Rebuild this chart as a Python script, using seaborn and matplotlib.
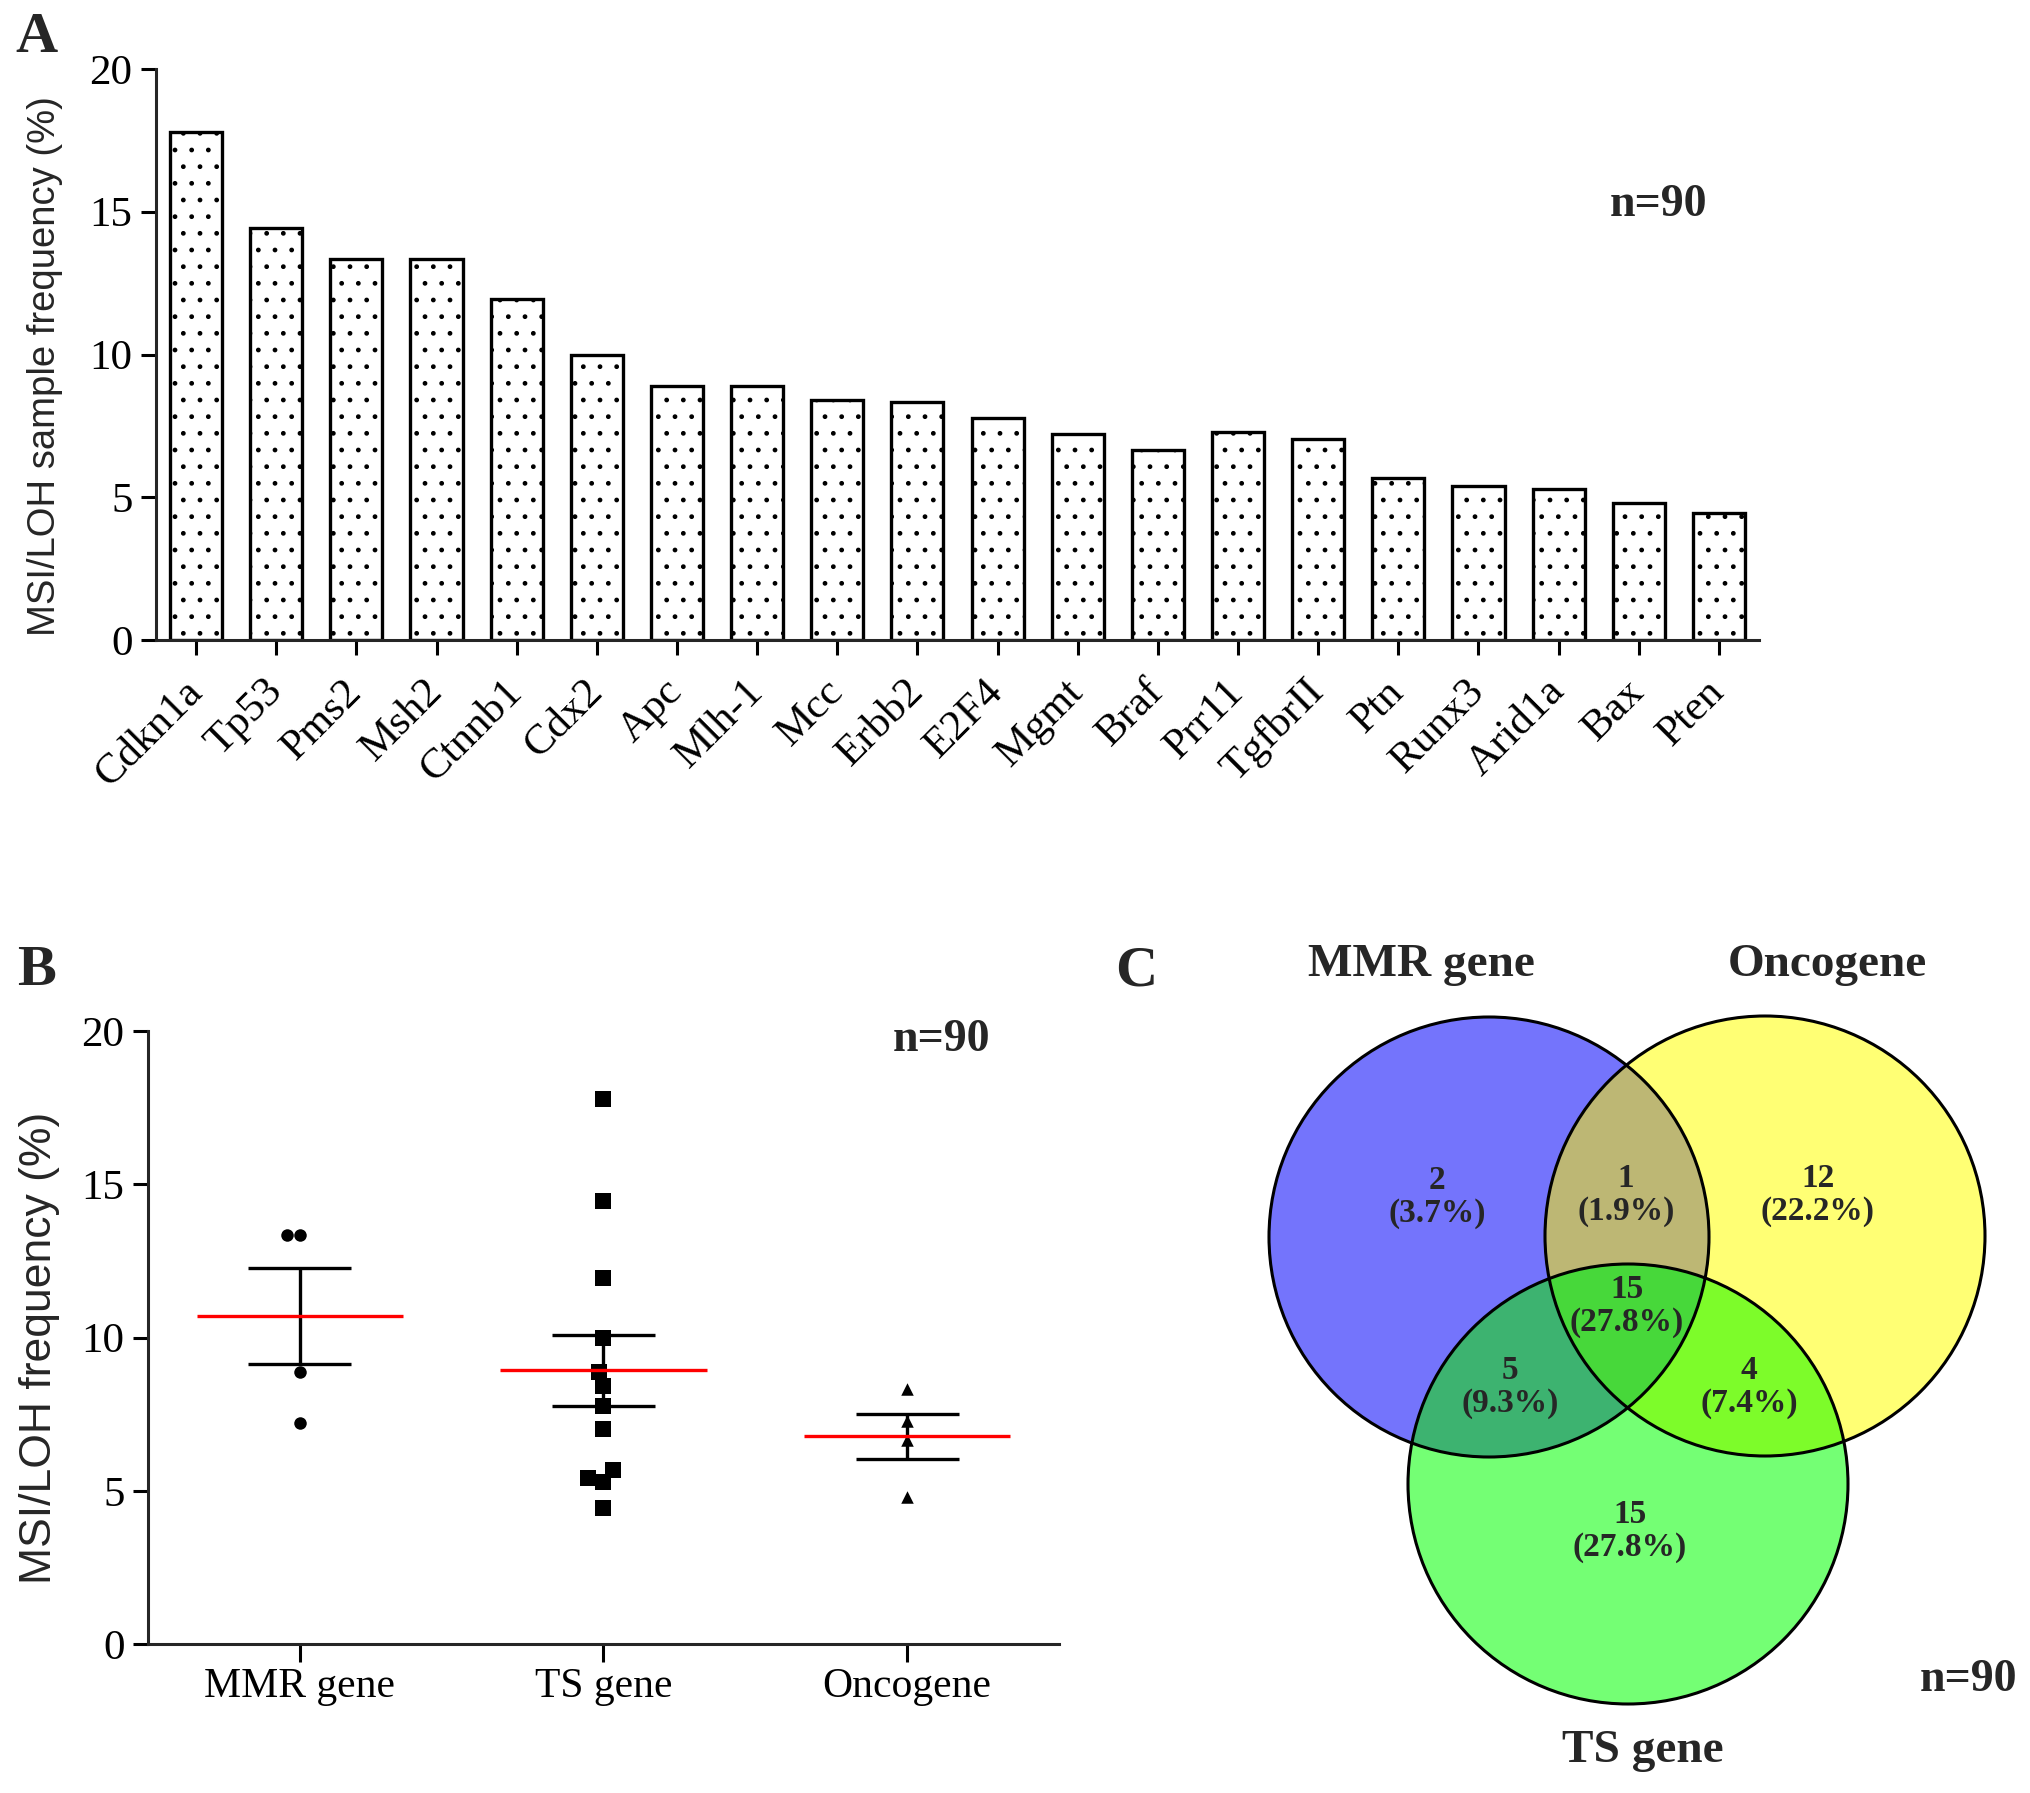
import numpy as np
import pandas as pd
import seaborn as sns
import matplotlib.pyplot as plt
from matplotlib.patches import Circle, Polygon

# Data
genes = ['Cdkn1a', 'Tp53', 'Pms2', 'Msh2', 'Ctnnb1', 'Cdx2', 'Apc', 'Mlh-1', 'Mcc', 'Erbb2',
         'E2F4', 'Mgmt', 'Braf', 'Prr11', 'TgfbrII', 'Ptn', 'Runx3', 'Arid1a', 'Bax', 'Pten']
freq = [17.78, 14.44, 13.33, 13.33, 11.95, 10.0, 8.89, 8.89, 8.41, 8.33,
        7.78, 7.22, 6.67, 7.28, 7.03, 5.67, 5.40, 5.28, 4.81, 4.45]
gene_class = ['TS gene', 'TS gene', 'MMR gene', 'MMR gene', 'TS gene', 'TS gene', 'TS gene', 'MMR gene',
              'TS gene', 'Oncogene', 'TS gene', 'MMR gene', 'Oncogene', 'Oncogene', 'TS gene', 'TS gene',
              'TS gene', 'TS gene', 'Oncogene', 'TS gene']
groups = ['MMR gene', 'TS gene', 'Oncogene']
group_markers = ['o', 's', '^']

venn_sets = ['MMR gene', 'Oncogene', 'TS gene']
venn_regions = ['MMR', 'MMR&Onco', 'Onco', 'All', 'MMR&TS', 'Onco&TS', 'TS']
venn_counts = [2, 1, 12, 15, 5, 4, 15]

df = pd.DataFrame({'gene': genes, 'freq': freq, 'group': gene_class})

sns.set_theme(style='ticks')
plt.rcParams['font.family'] = ['Liberation Serif', 'DejaVu Serif']
plt.rcParams['axes.linewidth'] = 2.2
plt.rcParams['hatch.color'] = 'black'
plt.rcParams['hatch.linewidth'] = 1.0

W, H = 2031, 1793
fig = plt.figure(figsize=(W / 100, H / 100), dpi=100)


def px_axes(x0, y0, x1, y1):
    # pixel box (top-left origin) -> figure fraction
    return [x0 / W, 1 - y1 / H, (x1 - x0) / W, (y1 - y0) / H]


def style_axes(ax):
    sns.despine(ax=ax)
    ax.tick_params(axis='both', direction='out', length=11, width=2.2, labelsize=31,
                   colors='black', pad=6)
    ax.set_ylim(0, 20)
    ax.set_yticks([0, 5, 10, 15, 20])


# ---- Panel A ----
axA = fig.add_axes(px_axes(156, 69, 1759, 640))
sns.barplot(x='gene', y='freq', data=df, order=genes, color='white', edgecolor='black',
            linewidth=2.4, width=0.65, saturation=1, ax=axA)
for p in axA.patches:
    p.set_hatch('.')
    p.set_edgecolor('black')
style_axes(axA)
axA.set_xlim(-0.5, len(genes) - 0.5)
axA.set_xlabel('')
axA.set_ylabel('MSI/LOH sample frequency (%)', fontsize=27.5, family='Liberation Sans')
axA.yaxis.set_label_coords(-0.058, 0.48)
plt.setp(axA.get_xticklabels(), rotation=45, ha='right', va='center', rotation_mode='anchor')
axA.tick_params(axis='x', pad=22)
axA.text(0.937, 0.762, 'n=90', transform=axA.transAxes, ha='center', va='center',
         fontsize=33, fontweight='bold')

# ---- Panel B ----
axB = fig.add_axes(px_axes(148, 1031, 1059, 1644))
marker_size = {'o': 9, 's': 11, '^': 9}
for g, m in zip(groups, group_markers):
    sub = df[df['group'] == g]
    sns.swarmplot(x=sub['group'], y=sub['freq'], order=groups, marker=m, color='black',
                  size=marker_size[m], linewidth=0, ax=axB)
stats = df.groupby('group')['freq'].agg(['mean', 'sem']).reindex(groups)
for i, g in enumerate(groups):
    mu, se = stats.loc[g, 'mean'], stats.loc[g, 'sem']
    axB.vlines(i, mu - se, mu + se, color='black', lw=2.4, zorder=4)
    axB.hlines([mu - se, mu + se], i - 0.17, i + 0.17, color='black', lw=2.4, zorder=4)
    axB.hlines(mu, i - 0.34, i + 0.34, color='red', lw=2.4, zorder=5)
style_axes(axB)
axB.set_xlim(-0.5, 2.5)
axB.set_xlabel('')
axB.tick_params(axis='x', length=13, pad=4, labelsize=30)
axB.set_ylabel('MSI/LOH frequency (%)', fontsize=32, family='Liberation Sans')
axB.yaxis.set_label_coords(-0.097, 0.483)
axB.text(0.871, 0.985, 'n=90', transform=axB.transAxes, ha='center', va='center',
         fontsize=33, fontweight='bold')

# ---- Panel C (Venn) ----
axC = fig.add_axes(px_axes(1100, 900, W, H))
axC.set_xlim(1100, W)
axC.set_ylim(H, 900)
axC.axis('off')

centers = {'MMR': (1489, 1237), 'Onco': (1765, 1236), 'TS': (1628, 1484)}
r = 220
single_col = {'MMR': '#7474fc', 'Onco': '#ffff74', 'TS': '#74ff74'}
pair_col = {('MMR', 'Onco'): '#bdb774', ('MMR', 'TS'): '#3db370', ('Onco', 'TS'): '#7dfc2a'}
triple_col = '#47d83a'

for k, c in centers.items():
    axC.add_patch(Circle(c, r, facecolor=single_col[k], edgecolor='none', zorder=1))
for (a, b), col in pair_col.items():
    patch = Circle(centers[a], r, facecolor=col, edgecolor='none', zorder=2)
    axC.add_patch(patch)
    patch.set_clip_path(Circle(centers[b], r, transform=axC.transData))

# triple overlap as polygon
theta = np.linspace(0, 2 * np.pi, 2000)
pts = []
names = list(centers)
for k in names:
    cx, cy = centers[k]
    ring = np.column_stack([cx + r * np.cos(theta), cy + r * np.sin(theta)])
    keep = np.ones(len(ring), bool)
    for o in names:
        if o != k:
            ox, oy = centers[o]
            keep &= np.hypot(ring[:, 0] - ox, ring[:, 1] - oy) <= r + 0.5
    pts.append(ring[keep])
pts = np.vstack(pts)
cen = pts.mean(axis=0)
pts = pts[np.argsort(np.arctan2(pts[:, 1] - cen[1], pts[:, 0] - cen[0]))]
axC.add_patch(Polygon(pts, closed=True, facecolor=triple_col, edgecolor='none', zorder=3))

for c in centers.values():
    axC.add_patch(Circle(c, r, fill=False, edgecolor='black', lw=2.2, zorder=6))

label_pos = [(1437, 1197), (1626, 1195), (1818, 1195), (1627, 1306),
             (1510, 1387), (1749, 1387), (1630, 1531)]
total = sum(venn_counts)
for (x, y), n in zip(label_pos, venn_counts):
    axC.text(x, y, f'{n}\n({n / total * 100:.1f}%)', ha='center', va='center',
             fontsize=24, fontweight='bold', linespacing=1.05, zorder=7)

set_pos = [(1421, 965), (1827, 965), (1643, 1751)]
for (x, y), s in zip(set_pos, venn_sets):
    axC.text(x, y, s, ha='center', va='center', fontsize=34, fontweight='bold')
axC.text(1969, 1680, 'n=90', ha='center', va='center', fontsize=33, fontweight='bold')

# Panel letters
for (x, y), s in zip([(36, 38), (36, 971), (1136, 971)], ['A', 'B', 'C']):
    fig.text(x / W, 1 - y / H, s, ha='center', va='center', fontsize=42, fontweight='bold')

fig.savefig('out.png', dpi=100, facecolor='white')
